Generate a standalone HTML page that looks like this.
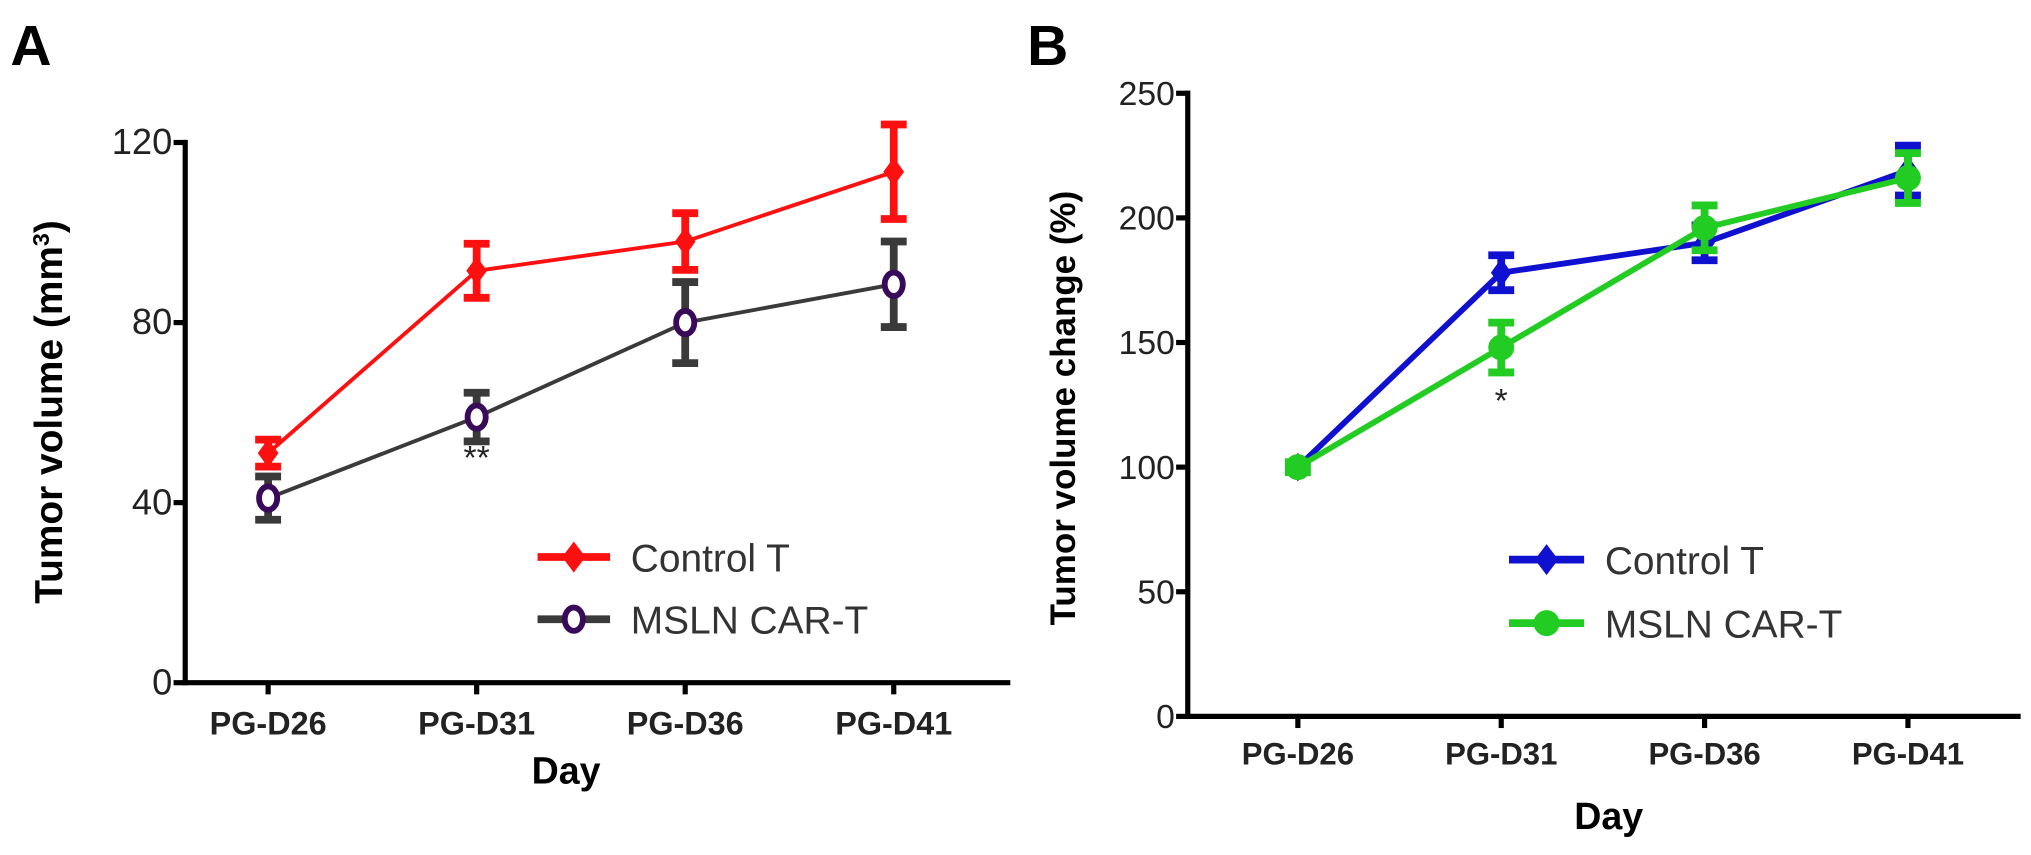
<!DOCTYPE html>
<html><head><meta charset="utf-8"><style>
html,body{margin:0;padding:0;background:#fff;}
svg{display:block;font-family:"Liberation Sans",Arial,sans-serif;}
</style></head><body>
<svg id="fig" width="2031" height="855" viewBox="0 0 1568 660" preserveAspectRatio="none">
<text x="8" y="50" font-size="44" font-weight="bold">A</text>
<text x="793" y="50" font-size="44" font-weight="bold">B</text>
<g id="pa"></g>
<g id="pb"></g>
</svg>
<script>
const categories = ["PG-D26","PG-D31","PG-D36","PG-D41"];
const aControl = [51, 91.5, 98, 113.5];
const aControlErr = [3, 6, 6.3, 10.5];
const aMsln = [41, 59, 80, 88.5];
const aMslnErr = [4.8, 5.4, 9, 9.5];
const aTicks = [0, 40, 80, 120];
const bControl = [100, 178, 190, 219];
const bControlErr = [0, 7, 7, 10];
const bMsln = [100, 148, 196, 216];
const bMslnErr = [2, 10, 9, 10];
const bTicks = [0, 50, 100, 150, 200, 250];

const NS = "http://www.w3.org/2000/svg";
function mk(parent, tag, attrs, text){
  const e = document.createElementNS(NS, tag);
  for (const k in attrs) e.setAttribute(k, attrs[k]);
  if (text !== undefined) e.textContent = text;
  parent.appendChild(e);
  return e;
}

function drawPanel(g, cfg){
  const y = v => cfg.y0 - (v - cfg.ymin) / (cfg.ymax - cfg.ymin) * (cfg.y0 - cfg.y1);
  const x = i => cfg.xs0 + i * cfg.xstep;
  let ax = mk(g, "line", {x1:cfg.ax, y1:y(cfg.ymax)-2, x2:cfg.ax, y2:cfg.y0+2, stroke:"#000","stroke-width":4});
  
  
  let bx = mk(g, "line", {x1:cfg.ax-2, y1:cfg.y0, x2:cfg.xend, y2:cfg.y0, stroke:"#000","stroke-width":4});
  
  
  cfg.ticks.forEach(t => {
    const tk = mk(g, "line", {x1:cfg.ax-9, y1:y(t), x2:cfg.ax, y2:y(t), stroke:"#000","stroke-width":4});
    
    
    const tl = mk(g, "text", {x:cfg.ax-10, y:y(t)+9, "font-size":cfg.tickFs, "text-anchor":"end", fill:"#222"}, t);
    
    
  });
  categories.forEach((c,i) => {
    const tk = mk(g, "line", {x1:x(i), y1:cfg.y0, x2:x(i), y2:cfg.y0+9, stroke:"#000","stroke-width":4});
    
    
    const tl = mk(g, "text", {x:x(i), y:cfg.y0+cfg.xlabOff, "font-size":cfg.xFs, "font-weight":"bold", "text-anchor":"middle", fill:"#222"}, c);
    
    
  });
  const xt = mk(g, "text", {x:cfg.dayX, y:cfg.dayY, "font-size":29, "font-weight":"bold", "text-anchor":"middle"}, "Day");
  
  
  const yt = mk(g, "text", {x:0, y:0, "font-size":cfg.ytFs, "font-weight":"bold", "text-anchor":"middle", transform:`translate(${cfg.ytX},${cfg.ytY}) rotate(-90)`}, cfg.ytitle);
  
  
  if (cfg.sup){ mk(yt, "tspan", {"baseline-shift":"super","font-size":18}, "3"); mk(yt,"tspan",{},")"); }

  cfg.series.forEach(s => {
    const sg = mk(g, "g", {});
    
    
    const pts = s.vals.map((v,i)=>x(i)+","+y(v)).join(" ");
    const pl = mk(sg, "polyline", {points:pts, fill:"none", stroke:s.line, "stroke-width":s.lw});
    
    
    s.vals.forEach((v,i) => {
      const e = s.err[i];
      if (e > 0){
        const eb = mk(sg, "path", {d:`M${x(i)},${y(v+e)}V${y(v-e)}M${x(i)-10},${y(v+e)}H${x(i)+10}M${x(i)-10},${y(v-e)}H${x(i)+10}`, stroke:s.errc, "stroke-width":6, fill:"none"});
        
        
      }
      let m;
      if (s.marker === "diamond") m = mk(sg, "path", {d:`M${x(i)},${y(v)-11}L${x(i)+8},${y(v)}L${x(i)},${y(v)+11}L${x(i)-8},${y(v)}Z`, fill:s.line});
      else if (s.marker === "ring") m = mk(sg, "ellipse", {cx:x(i), cy:y(v), rx:7, ry:9, fill:"#fff", stroke:"#3a0a5a", "stroke-width":4.5});
      else m = mk(sg, "circle", {cx:x(i), cy:y(v), r:10, fill:s.line});
      
      
    });
  });
  cfg.legend.forEach((l,k) => {
    const lg = mk(g, "g", {});
    
    
    const ly = cfg.legY + k*cfg.legDy;
    mk(lg, "line", {x1:cfg.legX, y1:ly, x2:cfg.legX+cfg.legW, y2:ly, stroke:l.errc, "stroke-width":6});
    const cx = cfg.legX + cfg.legW/2;
    if (l.marker === "diamond") mk(lg, "path", {d:`M${cx},${ly-12}L${cx+9},${ly}L${cx},${ly+12}L${cx-9},${ly}Z`, fill:l.line});
    else if (l.marker === "ring") mk(lg, "ellipse", {cx:cx, cy:ly, rx:7, ry:9, fill:"#fff", stroke:"#3a0a5a", "stroke-width":4.5});
    else mk(lg, "circle", {cx:cx, cy:ly, r:10, fill:l.line});
    mk(lg, "text", {x:cfg.legX+cfg.legW+16, y:ly+11, "font-size":30, fill:"#333"}, l.label);
  });
  cfg.stars.forEach(st => {
    const t = mk(g, "text", {x:x(st.i), y:st.y, "font-size":26, "text-anchor":"middle", fill:"#222"}, st.t);
    
    
  });
}

const red = {name:"control-t", line:"#ff1010", errc:"#ff1010", lw:3, marker:"diamond", label:"Control T"};
const grey = {name:"msln-car-t", line:"#3a3a3a", errc:"#3a3a3a", lw:3, marker:"ring", label:"MSLN CAR-T"};
drawPanel(document.getElementById("pa"), {
  ymin:0, ymax:120, y0:527, y1:110, ax:143, xend:780, xs0:207, xstep:161,
  ticks:aTicks, tickFs:28, xFs:25, xlabOff:40, dayX:437, dayY:605,
  ytitle:"Tumor volume (mm", sup:true, ytFs:30, ytX:48, ytY:318,
  series:[Object.assign({vals:aMsln, err:aMslnErr}, grey), Object.assign({vals:aControl, err:aControlErr}, red)],
  legend:[red, grey], legX:415, legY:430, legDy:48, legW:56,
  stars:[{i:1, y:362, t:"**"}]
});
const blue = {name:"control-t", line:"#1010d0", errc:"#1010d0", lw:4.5, marker:"diamond", label:"Control T"};
const green = {name:"msln-car-t", line:"#22cc22", errc:"#22cc22", lw:4.5, marker:"circle", label:"MSLN CAR-T"};
drawPanel(document.getElementById("pb"), {
  ymin:0, ymax:250, y0:553, y1:72, ax:917, xend:1560, xs0:1002, xstep:157,
  ticks:bTicks, tickFs:26, xFs:24, xlabOff:37, dayX:1242, dayY:640,
  ytitle:"Tumor volume change (%)", sup:false, ytFs:27, ytX:830, ytY:315,
  series:[Object.assign({vals:bControl, err:bControlErr}, blue), Object.assign({vals:bMsln, err:bMslnErr}, green)],
  legend:[blue, green], legX:1165, legY:432, legDy:49, legW:58,
  stars:[{i:1, y:318, t:"*"}]
});
</script>
</body></html>
